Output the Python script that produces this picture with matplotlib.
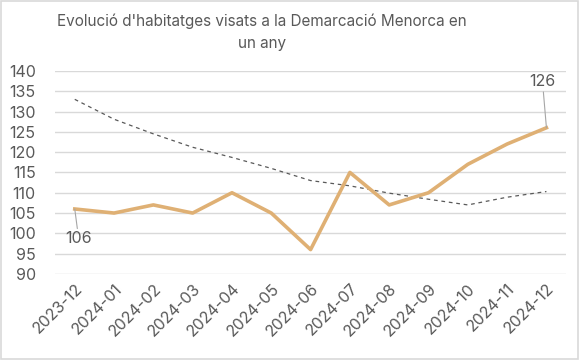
import matplotlib

matplotlib.use("Agg")
import matplotlib.pyplot as plt  # noqa: E402
from matplotlib.patches import Rectangle  # noqa: E402

months = ["2023-12", "2024-01", "2024-02", "2024-03", "2024-04", "2024-05", "2024-06",
          "2024-07", "2024-08", "2024-09", "2024-10", "2024-11", "2024-12"]
visats = [106, 105, 107, 105, 110, 105, 96, 115, 107, 110, 117, 122, 126]
tendencia = [133.0, 128.1, 124.5, 121.2, 118.7, 116.0, 113.0, 111.7, 109.9, 108.4, 107.0, 108.9, 110.3]
yticks = list(range(90, 141, 5))

TXT = "#595959"
LINE = "#DFB074"

plt.rcParams["font.family"] = ["Inter", "DejaVu Sans"]

fig = plt.figure(figsize=(5.8, 3.6), dpi=100)
fig.patches.append(Rectangle((0.002, 0.003), 0.995, 0.994, transform=fig.transFigure,
                             fill=False, edgecolor="#d9d9d9", linewidth=1.2))
ax = fig.add_axes([0.095, 0.239, 0.881, 0.564])

x = list(range(len(months)))
ax.plot(x, tendencia, color="#595959", linestyle=(0, (3, 3)), linewidth=0.9, zorder=2)
ax.plot(x, visats, color=LINE, linewidth=2.6, solid_joinstyle="round", zorder=3)

ax.set_xlim(-0.5, len(months) - 0.5)
ax.set_ylim(90, 140)
ax.set_yticks(yticks)
ax.set_yticklabels([str(v) for v in yticks], fontsize=11.5, color=TXT)
ax.set_xticks(x)
ax.set_xticklabels(months, rotation=45, ha="right", rotation_mode="anchor",
                   fontsize=11.5, color=TXT)
ax.tick_params(axis="y", length=0, pad=14)
ax.tick_params(axis="x", length=0, pad=5)
ax.grid(axis="y", color="#d9d9d9", linewidth=1)
ax.set_axisbelow(True)
for s in ax.spines.values():
    s.set_visible(False)

# data labels with leader lines
ax.annotate(str(visats[0]), xy=(x[0], visats[0]), xytext=(x[0] + 0.1, 100.5),
            fontsize=11.5, color=TXT, ha="center", va="top",
            arrowprops=dict(arrowstyle="-", color="#a6a6a6", linewidth=0.8, shrinkA=0, shrinkB=0))
ax.annotate(str(visats[-1]), xy=(x[-1], visats[-1]), xytext=(x[-1] - 0.1, 135.5),
            fontsize=11.5, color=TXT, ha="center", va="bottom",
            arrowprops=dict(arrowstyle="-", color="#a6a6a6", linewidth=0.8, shrinkA=0, shrinkB=0))

fig.text(0.452, 0.91, "Evolució d'habitatges visats a la Demarcació Menorca en\nun any",
         ha="center", va="center", fontsize=11, color=TXT, linespacing=1.6)

fig.savefig("out.png", dpi=100)
